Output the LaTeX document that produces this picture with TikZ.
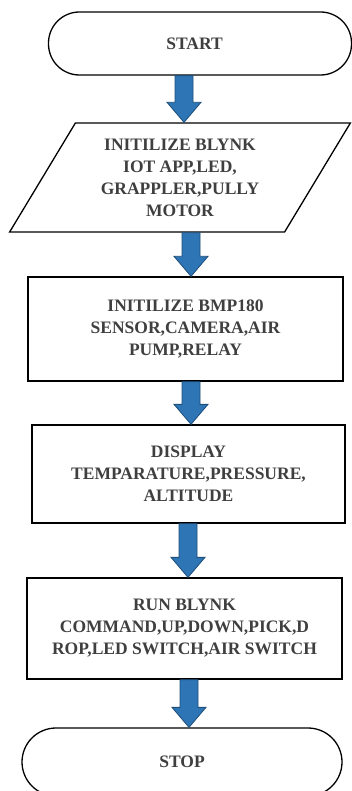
\documentclass[tikz,border=0pt]{standalone}
\usepackage{fontspec}
\setmainfont{Liberation Serif}
\usepackage{tikz}
\usetikzlibrary{calc,shapes.geometric}
\definecolor{flowtext}{HTML}{3F3F3F}
\definecolor{flowblue}{HTML}{2E75B6}
\definecolor{flowedge}{HTML}{1F4E79}

\begin{document}
\begin{tikzpicture}[x=1pt,y=-1pt,
  every node/.style={font=\fontsize{17.5}{22}\selectfont\bfseries,text=flowtext,align=center},
  terminal/.style={draw,line width=1.3pt,rounded corners=31pt,inner sep=0pt},
  procbox/.style={draw,line width=1.3pt,inner sep=0pt},
  iobox/.style={draw,line width=1.3pt,trapezium,trapezium left angle=58,trapezium right angle=122,
    trapezium stretches=true,inner sep=2pt}]
  \useasboundingbox (0,0) rectangle (352,791);
  \node[terminal,minimum width=303pt,minimum height=63pt] (start) at (200,43.5) {START\hspace*{11pt}};
  \node[iobox,minimum width=342pt,minimum height=109pt] (initapp) at (180,177.5)
    {INITILIZE BLYNK\\IOT APP,LED,\\GRAPPLER,PULLY\\MOTOR};
  \node[procbox,minimum width=315pt,minimum height=104pt] (initsensor) at (185.5,329)
    {INITILIZE BMP180\\SENSOR,CAMERA,AIR\\PUMP,RELAY};
  \node[procbox,minimum width=313pt,minimum height=98pt] (display) at (188.5,474)
    {DISPLAY\\TEMPARATURE,PRESSURE,\\ALTITUDE};
  \node[procbox,minimum width=315pt,minimum height=101pt] (runcmd) at (184.5,628.5)
    {RUN BLYNK\\COMMAND,UP,DOWN,PICK,D\\ROP,LED SWITCH,AIR SWITCH};
  \node[terminal,minimum width=320pt,minimum height=68pt,rounded corners=34pt] (stop) at (182,762) {STOP};
  % block arrows between the steps
  \foreach \a/\b/\c in {start/initapp/184,initapp/initsensor/191,initsensor/display/191,display/runcmd/188,runcmd/stop/189} {
    \filldraw[fill=flowblue,draw=flowedge,line width=0.8pt,line join=miter]
      let \p1=(\a.south), \p2=(\b.north) in
      ({\c pt-9pt},\y1) -- ({\c pt+9pt},\y1) -- ({\c pt+9pt},\y2+20pt) -- ({\c pt+17pt},\y2+20pt)
      -- ({\c pt},\y2) -- ({\c pt-17pt},\y2+20pt) -- ({\c pt-9pt},\y2+20pt) -- cycle;
  }
\end{tikzpicture}
\end{document}
